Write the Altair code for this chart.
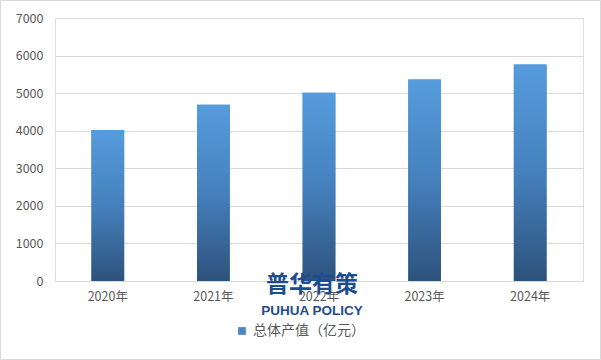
import altair as alt
import pandas as pd

years = ["2020年", "2021年", "2022年", "2023年", "2024年"]
values = [4020, 4690, 5010, 5360, 5760]
series_name = "总体产值（亿元）"
y_ticks = [0, 1000, 2000, 3000, 4000, 5000, 6000, 7000]

df = pd.DataFrame({"year": years, "value": values, "series": [series_name] * len(years)})

FONT = "Noto Sans CJK SC"
W, H = 528, 263
PAD = {"left": 55, "top": 18, "right": 18, "bottom": 79}

gradient = alt.Gradient(
    gradient="linear",
    stops=[
        alt.GradientStop(color="#569cdd", offset=0),
        alt.GradientStop(color="#4580bd", offset=0.5),
        alt.GradientStop(color="#2d527b", offset=1),
    ],
    x1=0, x2=0, y1=0, y2=1,
)

x_enc = alt.X(
    "year:N",
    sort=years,
    title=None,
    scale=alt.Scale(paddingInner=0.69, paddingOuter=0.345),
    axis=alt.Axis(labelAngle=0, ticks=False, domain=True, domainColor="#d9d9d9",
                  labelColor="#595959", labelFontSize=12.5, labelFont=FONT, labelPadding=9),
)
y_enc = alt.Y(
    "value:Q",
    title=None,
    scale=alt.Scale(domain=[0, 7000], nice=False),
    axis=alt.Axis(values=y_ticks, format="d", ticks=False, domain=False, grid=True,
                  gridColor="#d9d9d9", labelColor="#595959", labelFontSize=12.5,
                  labelFont=FONT, labelPadding=12),
)

base_bar = alt.Chart(df).mark_bar().encode(
    x=x_enc, y=y_enc,
    color=alt.Color("series:N", title=None,
                    scale=alt.Scale(range=["#4a86c5"]),
                    legend=alt.Legend(orient="none", legendX=180, legendY=306,
                                      symbolType="square", symbolSize=60,
                                      labelFont=FONT, labelFontSize=14, labelColor="#595959",
                                      labelOffset=4)),
)
grad_bar = alt.Chart(df).mark_bar(color=gradient).encode(x=x_enc, y=y_enc)

frame = alt.Chart(pd.DataFrame({"k": [0]})).mark_rect(
    fill=None, stroke="#d9d9d9", strokeWidth=1
).encode(
    x=alt.value(-PAD["left"] + 0.5), x2=alt.value(W + PAD["right"] - 0.5),
    y=alt.value(-PAD["top"] + 0.5), y2=alt.value(H + PAD["bottom"] - 0.5),
)

wm1 = alt.Chart(pd.DataFrame({"t": ["普华有策"]})).mark_text(
    font=FONT, fontSize=23, fontWeight="bold", color="#1d4d8c",
    align="center", baseline="middle").encode(
    text="t:N", x=alt.value(257), y=alt.value(267))
wm2 = alt.Chart(pd.DataFrame({"t": ["PUHUA POLICY"]})).mark_text(
    font="Liberation Sans", fontSize=13.5, fontWeight="bold", color="#1d4d8c",
    align="center", baseline="middle").encode(
    text="t:N", x=alt.value(257), y=alt.value(293))

chart = alt.layer(frame, base_bar, grad_bar, wm1, wm2).properties(
    width=W, height=H,
    autosize=alt.AutoSizeParams(type="none"),
    padding=PAD,
).configure_view(stroke=None).configure(background="white")

chart.save("out.html", embed_options={"renderer": "svg", "actions": False})
